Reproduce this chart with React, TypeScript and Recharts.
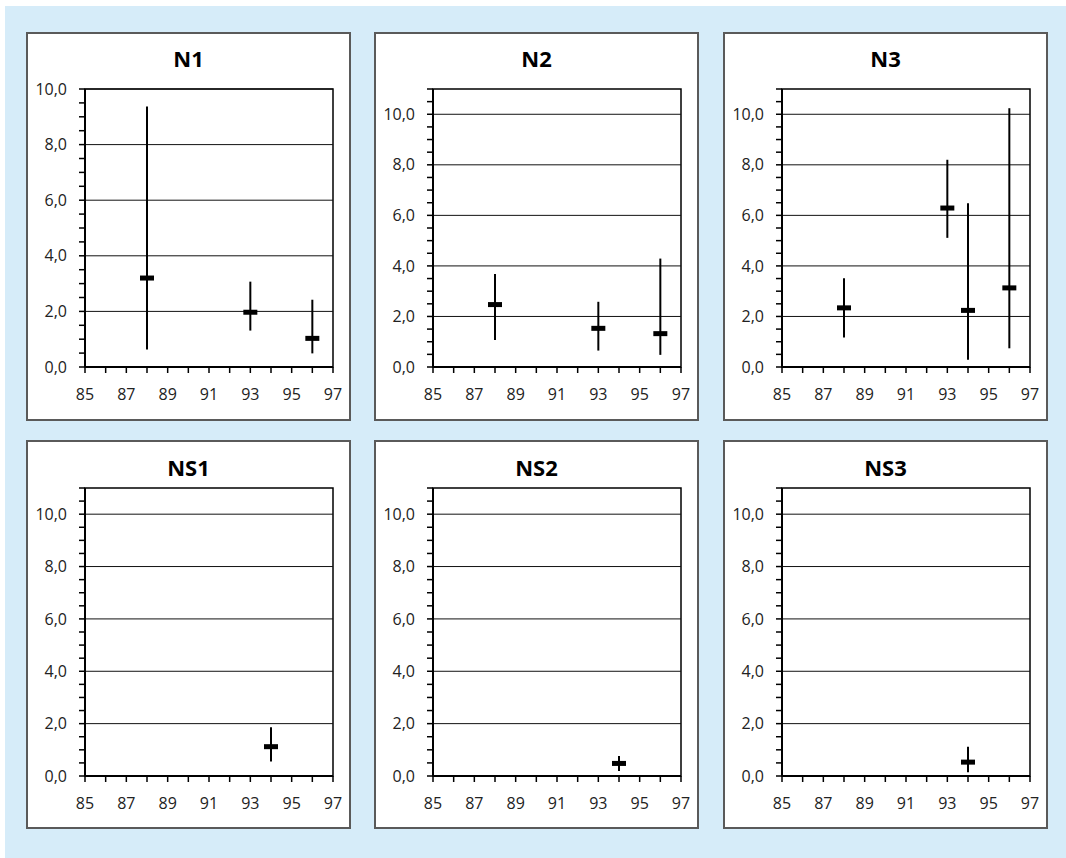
import {
  ComposedChart,
  ErrorBar,
  ReferenceArea,
  ReferenceLine,
  Scatter,
  XAxis,
  YAxis,
} from "recharts";

// x axis: one tick per year, label every second year
const xTicks = [85, 86, 87, 88, 89, 90, 91, 92, 93, 94, 95, 96, 97];
const xLabels = [85, 87, 89, 91, 93, 95, 97];

// y axis: minor tick every 0.5, labels / grid every 2
const yTicks10 = [0, 0.5, 1, 1.5, 2, 2.5, 3, 3.5, 4, 4.5, 5, 5.5, 6, 6.5, 7, 7.5, 8, 8.5, 9, 9.5, 10];
const yTicks11 = [0, 0.5, 1, 1.5, 2, 2.5, 3, 3.5, 4, 4.5, 5, 5.5, 6, 6.5, 7, 7.5, 8, 8.5, 9, 9.5, 10, 10.5, 11];
const yLabels = [0, 2, 4, 6, 8, 10];
const gridValues = [2, 4, 6, 8, 10];

const titles = ["N1", "N2", "N3", "NS1", "NS2", "NS3"];

const n1Years = [88, 93, 96];
const n1Means = [3.2, 1.97, 1.03];
const n1Lows = [0.63, 1.31, 0.49];
const n1Highs = [9.37, 3.07, 2.42];

const n2Years = [88, 93, 96];
const n2Means = [2.47, 1.53, 1.32];
const n2Lows = [1.07, 0.65, 0.48];
const n2Highs = [3.68, 2.58, 4.29];

const n3Years = [88, 93, 94, 96];
const n3Means = [2.34, 6.29, 2.24, 3.13];
const n3Lows = [1.17, 5.11, 0.29, 0.74];
const n3Highs = [3.51, 8.2, 6.48, 10.24];

const ns1Years = [94];
const ns1Means = [1.12];
const ns1Lows = [0.55];
const ns1Highs = [1.86];

const ns2Years = [94];
const ns2Means = [0.48];
const ns2Lows = [0.19];
const ns2Highs = [0.76];

const ns3Years = [94];
const ns3Means = [0.53];
const ns3Lows = [0.14];
const ns3Highs = [1.12];

const CHART_W = 321;
const CHART_H = 385;
const FONT = "'Open Sans', 'Liberation Sans', sans-serif";

function fmtY(v: number): string {
  return yLabels.includes(v) ? v.toFixed(1).replace(".", ",") : "";
}

function fmtX(v: number): string {
  return xLabels.includes(v) ? String(v) : "";
}

/** Mean marker: short thick horizontal bar. */
function MeanMark(props: { cx?: number; cy?: number }) {
  const { cx = 0, cy = 0 } = props;
  return <rect fill="#000" height={5} width={14} x={cx - 7} y={cy - 2.5} />;
}

interface PanelProps {
  title: string;
  years: number[];
  means: number[];
  lows: number[];
  highs: number[];
  yMax: number;
  yTicks: number[];
  left: number;
  top: number;
  row: number;
}

function Panel({ title, years, means, lows, highs, yMax, yTicks, left, top, row }: PanelProps) {
  const data = years.map((x, i) => ({
    x,
    y: means[i],
    err: [means[i] - lows[i], highs[i] - means[i]],
  }));
  const margin =
    row === 0
      ? { top: 55, right: 16, bottom: 22, left: 12 }
      : { top: 46, right: 16, bottom: 21, left: 12 };

  return (
    <div
      style={{
        position: "absolute",
        left,
        top,
        width: 325,
        height: 389,
        boxSizing: "border-box",
        border: "2px solid #5a5a5a",
        background: "#fff",
      }}
    >
      <div
        style={{
          position: "absolute",
          left: 0,
          right: 0,
          top: row === 0 ? 11 : 12,
          textAlign: "center",
          fontSize: 22,
          lineHeight: "26px",
          fontWeight: 700,
          color: "#000",
        }}
      >
        {title}
      </div>
      <div style={{ position: "absolute", left: 0, top: 0 }}>
        <ComposedChart data={data} height={CHART_H} margin={margin} width={CHART_W}>
          <XAxis
            axisLine={{ stroke: "#000", strokeWidth: 2 }}
            dataKey="x"
            domain={[85, 97]}
            height={30}
            interval={0}
            tick={{ fill: "#222", fontSize: 16 }}
            tickFormatter={fmtX}
            tickLine={{ stroke: "#000", strokeWidth: 1.5 }}
            tickMargin={16}
            tickSize={6}
            ticks={xTicks}
            type="number"
          />
          <YAxis
            axisLine={{ stroke: "#000", strokeWidth: 2 }}
            dataKey="y"
            domain={[0, yMax]}
            interval={0}
            tick={{ fill: "#222", fontSize: 16 }}
            tickFormatter={fmtY}
            tickLine={{ stroke: "#000", strokeWidth: 1.5 }}
            tickMargin={12}
            tickSize={6}
            ticks={yTicks}
            type="number"
            width={45}
          />
          {gridValues.map((v) => (
            <ReferenceLine key={v} stroke="#111" strokeWidth={1} y={v} />
          ))}
          <ReferenceArea
            fill="none"
            stroke="#000"
            strokeWidth={1.5}
            x1={85}
            x2={97}
            y1={0}
            y2={yMax}
          />
          <Scatter dataKey="y" isAnimationActive={false} shape={<MeanMark />}>
            <ErrorBar
              dataKey="err"
              direction="y"
              isAnimationActive={false}
              stroke="#000"
              strokeWidth={2}
              width={0}
            />
          </Scatter>
        </ComposedChart>
      </div>
    </div>
  );
}

export default function App() {
  const cols = [26, 374, 723];
  const rows = [32, 440];
  const panels = [
    { years: n1Years, means: n1Means, lows: n1Lows, highs: n1Highs, yMax: 10, yTicks: yTicks10 },
    { years: n2Years, means: n2Means, lows: n2Lows, highs: n2Highs, yMax: 11, yTicks: yTicks11 },
    { years: n3Years, means: n3Means, lows: n3Lows, highs: n3Highs, yMax: 11, yTicks: yTicks11 },
    { years: ns1Years, means: ns1Means, lows: ns1Lows, highs: ns1Highs, yMax: 11, yTicks: yTicks11 },
    { years: ns2Years, means: ns2Means, lows: ns2Lows, highs: ns2Highs, yMax: 11, yTicks: yTicks11 },
    { years: ns3Years, means: ns3Means, lows: ns3Lows, highs: ns3Highs, yMax: 11, yTicks: yTicks11 },
  ];

  return (
    <div
      style={{
        position: "absolute",
        left: 0,
        top: 0,
        width: 1066,
        height: 858,
        background: "#fff",
        fontFamily: FONT,
      }}
    >
      <div
        style={{
          position: "absolute",
          left: 5,
          top: 6,
          width: 1061,
          height: 852,
          background: "#d6ecf9",
        }}
      />
      {panels.map((p, i) => (
        <Panel
          key={titles[i]}
          {...p}
          left={cols[i % 3]}
          row={Math.floor(i / 3)}
          title={titles[i]}
          top={rows[Math.floor(i / 3)]}
        />
      ))}
    </div>
  );
}
